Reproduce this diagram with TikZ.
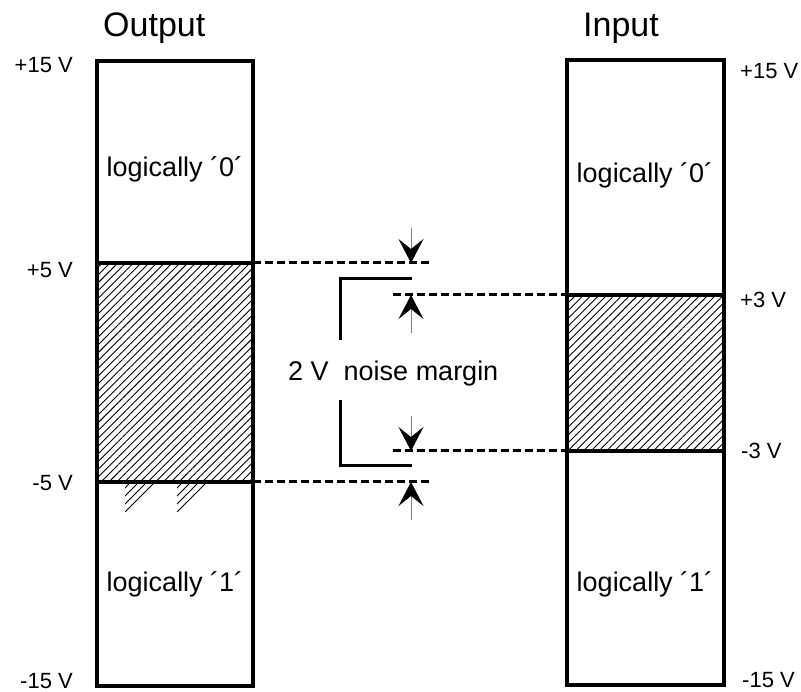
\documentclass[tikz,border=0pt]{standalone}
\usepackage{fontspec}
\setmainfont{Liberation Sans}
\usetikzlibrary{arrows.meta,patterns.meta}

\begin{document}
\begin{tikzpicture}[x=1pt, y=-1pt,
  every node/.style={inner sep=0pt, font=\fontsize{22}{26}\selectfont},
  bar/.style={line width=3.5pt},
  level/.style={line width=3pt, dash pattern=on 8pt off 4pt},
  hatch/.style={pattern={Lines[angle=45,distance=5.5pt,line width=0.9pt]}},
  gap/.style={gray, line width=1pt, -{Stealth[length=24pt 0,width=25pt 0,inset=10pt 0,black]}}]
\useasboundingbox (0,0) rectangle (801,692);

% output side: forbidden band between +5 V and -5 V
\fill[hatch] (97,263) rectangle (253,482);
\begin{scope}
  \clip (125,483) rectangle (160,512);
  \foreach \t in {130,138,146,154} \draw[line width=0.9pt] (\t,483) -- ++(-40,40);
\end{scope}
\begin{scope}
  \clip (177,483) rectangle (212,512);
  \foreach \t in {182,190,198,206} \draw[line width=0.9pt] (\t,483) -- ++(-40,40);
\end{scope}
\draw[bar] (97,61) rectangle (253,686);
\draw[bar] (97,263) -- (253,263) (97,482) -- (253,482);

% input side: forbidden band between +3 V and -3 V
\fill[hatch] (567,295) rectangle (724,451);
\draw[bar] (567,60) rectangle (724,685);
\draw[bar] (567,295) -- (724,295) (567,451) -- (724,451);

% levels carried over to the margin
\draw[level] (253,263) -- (429,263);
\draw[level] (393,295) -- (567,295);
\draw[level] (393,451) -- (567,451);
\draw[level] (253,482) -- (430,482);

\draw[line width=3pt] (412,279) -| (340,340);
\draw[line width=3pt] (340,400) |- (412,466);

\draw[gap] (411,228) -- (411,263);
\draw[gap] (411,333) -- (411,295);
\draw[gap] (411,416) -- (411,451);
\draw[gap] (411,520) -- (411,482);

% captions
\node[anchor=base west, font=\fontsize{34}{40}\selectfont] (outhead) at (103,37) {Output};
\node[anchor=base west, font=\fontsize{34}{40}\selectfont] (inhead) at (583,37) {Input};

\node[anchor=base east] (op15) at (73,73) {+15 V};
\node[anchor=base east] (op5) at (73,278) {+5 V};
\node[anchor=base east] (om5) at (73,490) {-5 V};
\node[anchor=base east] (om15) at (73,688) {-15 V};

\node[anchor=base west] (ip15) at (740,79) {+15 V};
\node[anchor=base west] (ip3) at (740,308) {+3 V};
\node[anchor=base west] (im3) at (741,459) {-3 V};
\node[anchor=base west] (im15) at (742,687) {-15 V};

\node[anchor=base, font=\fontsize{27}{32}\selectfont] (out0) at (175,177) {logically ´0´};
\node[anchor=base, font=\fontsize{27}{32}\selectfont] (out1) at (175,591) {logically ´1´};
\node[anchor=base, font=\fontsize{27}{32}\selectfont] (in0) at (645,183) {logically ´0´};
\node[anchor=base, font=\fontsize{27}{32}\selectfont] (in1) at (645,591) {logically ´1´};

\node[anchor=base west, font=\fontsize{27}{32}\selectfont] (margin) at (288,381) {2 V~~noise margin};
\end{tikzpicture}
\end{document}
